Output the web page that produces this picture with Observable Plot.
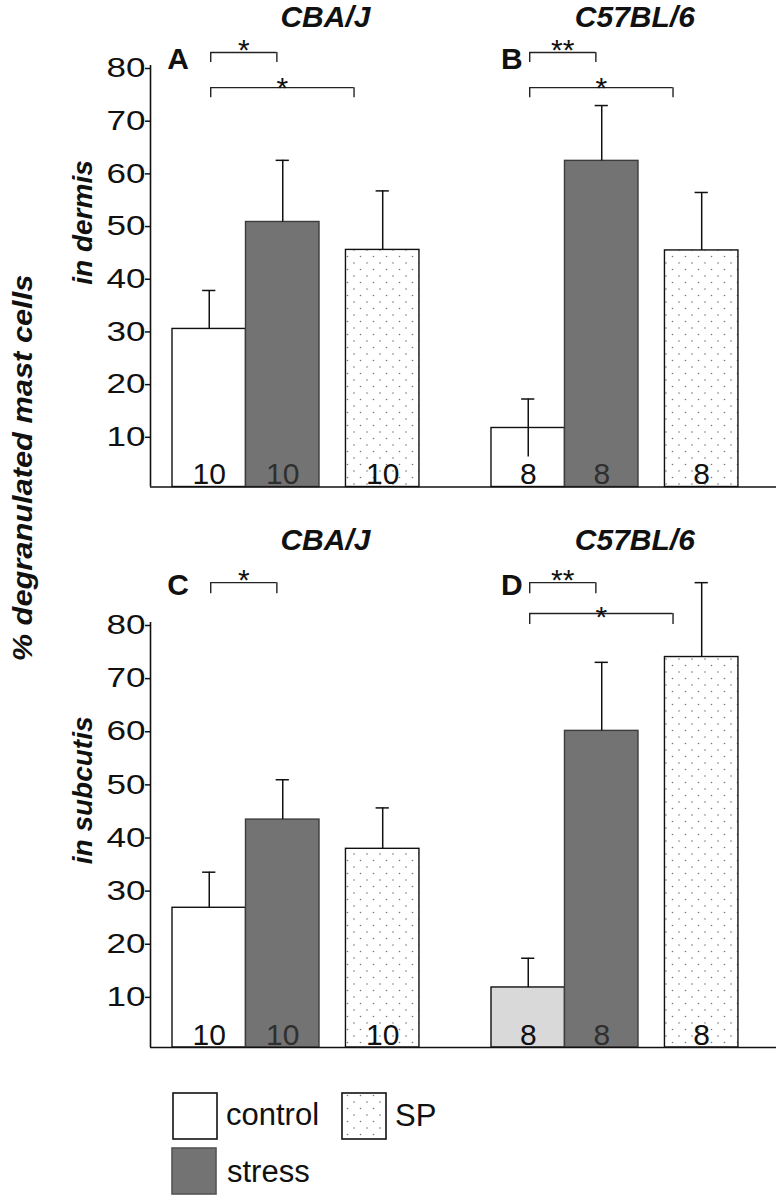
<!DOCTYPE html>
<html><head><meta charset="utf-8">
<script src="https://cdn.jsdelivr.net/npm/d3@7"></script>
<script src="https://cdn.jsdelivr.net/npm/@observablehq/plot@0.6"></script>
<style>
body{margin:0;background:#fff;}
#wrap{position:relative;width:776px;height:1199px;overflow:hidden;font-family:"Liberation Sans",Arial,Helvetica,sans-serif;}
#wrap > svg{display:block;}
</style></head><body>
<svg width="0" height="0" style="position:absolute">
<defs>
<pattern id="dots" width="13" height="13" patternUnits="userSpaceOnUse">
<rect width="13" height="13" fill="#fff"/>
<circle cx="3" cy="3" r="0.8" fill="#777"/>
<circle cx="9.5" cy="9.5" r="0.8" fill="#777"/>
</pattern>
</defs></svg>
<div id="wrap"></div>
<script>
// ---------- data ----------
const strains = ["CBA/J", "C57BL/6"];
const treatments = ["control", "stress", "SP"];
const tissues = ["dermis", "subcutis"];
const tissueLabels = ["in dermis", "in subcutis"];
const panelLetters = [["A", "B"], ["C", "D"]];
const miceN = [10, 8];
const yTicks = [10, 20, 30, 40, 50, 60, 70, 80];
const yTitle = "% degranulated mast cells";

const dermisCBA = [30.0, 50.3, 45.0];
const dermisCBAsem = [7.3, 11.7, 11.2];
const dermisC57 = [11.2, 61.9, 44.9];
const dermisC57sem = [5.5, 10.5, 11.0];
const subcutisCBA = [26.3, 42.9, 37.4];
const subcutisCBAsem = [6.7, 7.5, 7.7];
const subcutisC57 = [11.3, 59.6, 73.5];
const subcutisC57sem = [5.5, 12.9, 14.0];

const significance = [
  {tissue: "dermis", strain: "CBA/J", from: "control", to: "stress", label: "*"},
  {tissue: "dermis", strain: "CBA/J", from: "control", to: "SP", label: "*"},
  {tissue: "dermis", strain: "C57BL/6", from: "control", to: "stress", label: "**"},
  {tissue: "dermis", strain: "C57BL/6", from: "control", to: "SP", label: "*"},
  {tissue: "subcutis", strain: "CBA/J", from: "control", to: "stress", label: "*"},
  {tissue: "subcutis", strain: "C57BL/6", from: "control", to: "stress", label: "**"},
  {tissue: "subcutis", strain: "C57BL/6", from: "control", to: "SP", label: "*"}
];

// ---------- build table ----------
const series = {
  dermis: [[dermisCBA, dermisCBAsem], [dermisC57, dermisC57sem]],
  subcutis: [[subcutisCBA, subcutisCBAsem], [subcutisC57, subcutisC57sem]]
};
const bars = [];
for (const tissue of tissues) strains.forEach((strain, si) => {
  const [m, e] = series[tissue][si];
  treatments.forEach((t, ti) => bars.push({tissue, strain, treatment: t, mean: m[ti], sem: e[ti], n: String(miceN[si])}));
});

// ---------- layout ----------
const FONT = '"Liberation Sans", Arial, Helvetica, sans-serif';
const PX_PER_U = 73.5, U0 = 172;
const UMIN = (150 - U0) / PX_PER_U, UMAX = (776 - U0) / PX_PER_U;
const groupOffset = {"CBA/J": 0, "C57BL/6": 4.34};
const barOffset = {control: 0, stress: 1, SP: 2.36};
const letterDx = {"CBA/J": -0.07, "C57BL/6": 0.13};
const titleDx = {"CBA/J": 2.08, "C57BL/6": 1.95};
const left = d => groupOffset[d.strain] + barOffset[d.treatment];
const mid = d => left(d) + 0.5;
const STRESS = "#737373";
const fillOf = d => d.treatment === "stress" ? STRESS : d.treatment === "SP" ? "url(#dots)"
  : (d.tissue === "subcutis" && d.strain === "C57BL/6" ? "#d9d9d9" : "#ffffff");
const strokeOf = d => d.treatment === "stress" ? "#3c3c3c" : "#111111";

const panels = {
  dermis: {height: 500, marginTop: 65, marginBottom: 13.5, labelY: 50.2, titleY: 87.4, letterY: 79.4,
    bracketY: {stress: 82.46, SP: 75.8}, leg: 1.9, starDy: {stress: 7, SP: 10}},
  subcutis: {height: 560, marginTop: 122, marginBottom: 13, labelY: 48.4, titleY: 93.7, letterY: 85.1,
    bracketY: {stress: 87.5, SP: 81.7}, leg: 2.07, starDy: {stress: 7, SP: 14}}
};

function stretch(svg, label, s) {
  svg.querySelectorAll(`[aria-label="${label}"] text`).forEach(t =>
    t.setAttribute("transform", (t.getAttribute("transform") || "") + ` scale(${s},1)`));
}

function panel(tissue, ti) {
  const P = panels[tissue];
  const B = bars.filter(d => d.tissue === tissue);
  const S = significance.filter(d => d.tissue === tissue).map(d => {
    const x1 = groupOffset[d.strain] + barOffset[d.from] + 0.52;
    const x2 = groupOffset[d.strain] + barOffset[d.to] + (d.to === "stress" ? 0.42 : 0.11);
    return {...d, x1, x2, y: P.bracketY[d.to], yLeg: P.bracketY[d.to] - P.leg};
  });
  const legs = S.flatMap(d => [{x: d.x1, y1: d.y, y2: d.yLeg}, {x: d.x2, y1: d.y, y2: d.yLeg}]);
  const letters = strains.map((s, i) => ({strain: s, letter: panelLetters[ti][i]}));
  const lower = B.filter(d => d.tissue === "dermis" && d.strain === "C57BL/6" && d.treatment === "control");

  const svg = Plot.plot({
    width: 776, height: P.height,
    marginTop: P.marginTop, marginBottom: P.marginBottom, marginLeft: 150, marginRight: 0,
    x: {domain: [UMIN, UMAX], axis: null},
    y: {domain: [0, 80]},
    color: {type: "identity"},
    style: {fontFamily: FONT, background: "transparent", overflow: "visible", color: "#111"},
    marks: [
      Plot.rect(B, {x1: left, x2: d => left(d) + 1, y1: 0, y2: "mean", fill: fillOf, stroke: strokeOf, strokeWidth: 1.4}),
      Plot.text(B, {x: mid, y: 0, text: "n", dy: -3, lineAnchor: "bottom", fontSize: 30,
        fill: d => d.treatment === "stress" ? "#2f2f2f" : "#111111", ariaLabel: "count label"}),
      Plot.ruleX(B, {x: mid, y1: "mean", y2: d => d.mean + d.sem, strokeWidth: 1.5, stroke: "#111"}),
      Plot.ruleX(lower, {x: mid, y1: d => d.mean - d.sem, y2: "mean", strokeWidth: 1.5, stroke: "#111"}),
      Plot.ruleY(B, {y: d => d.mean + d.sem, x1: d => mid(d) - 0.09, x2: d => mid(d) + 0.09, strokeWidth: 1.5, stroke: "#111"}),
      Plot.ruleY([0], {strokeWidth: 1.6, stroke: "#111"}),
      Plot.ruleX([UMIN], {y1: 0, y2: 80, strokeWidth: 1.6, stroke: "#111"}),
      Plot.axisY(yTicks, {tickSize: 5, tickPadding: 0, fontSize: 27, dy: 3, label: null, strokeWidth: 1.5}),
      Plot.ruleY(S, {y: "y", x1: "x1", x2: "x2", strokeWidth: 1.4, stroke: "#222"}),
      Plot.ruleX(legs, {x: "x", y1: "y1", y2: "y2", strokeWidth: 1.4, stroke: "#222"}),
      ...["stress", "SP"].map(to => Plot.text(S.filter(d => d.to === to), {
        x: d => (d.x1 + d.x2) / 2, y: "y", text: "label", dy: P.starDy[to], lineAnchor: "bottom", fontSize: 30, fill: "#111"})),
      Plot.text(letters, {x: d => groupOffset[d.strain] + letterDx[d.strain], y: P.letterY, text: "letter",
        textAnchor: "start", lineAnchor: "bottom", fontSize: 30, fontWeight: "bold", fill: "#111"}),
      Plot.text(strains, {x: s => groupOffset[s] + titleDx[s], y: P.titleY, text: d => d, lineAnchor: "bottom",
        fontSize: 30, fontWeight: "bold", fontStyle: "italic", fill: "#111", ariaLabel: "strain title"}),
      Plot.text([tissueLabels[ti]], {frameAnchor: "left", y: P.labelY, text: d => d, dx: -59, rotate: -90,
        textAnchor: "middle", lineAnchor: "bottom", fontSize: 28, fontWeight: "bold", fontStyle: "italic", fill: "#111"})
    ]
  });
  stretch(svg, "y-axis tick label", 1.3);
  stretch(svg, "count label", 1.25);
  stretch(svg, "strain title", 1.08);
  return svg;
}

const wrap = document.getElementById("wrap");
tissues.forEach((t, i) => wrap.appendChild(panel(t, i)));

// legend
const ns = "http://www.w3.org/2000/svg";
const legend = document.createElementNS(ns, "svg");
legend.setAttribute("width", 776);
legend.setAttribute("height", 139);
const legendSpec = {
  control: {x: 173, y: 33, fill: "#fff", stroke: "#111", tx: 226, ty: 65},
  stress: {x: 172, y: 88, fill: STRESS, stroke: "#555", tx: 227, ty: 122},
  SP: {x: 342, y: 33, fill: "url(#dots)", stroke: "#111", tx: 395, ty: 66}
};
legend.innerHTML = treatments.map(t => {
  const s = legendSpec[t];
  return `<rect x="${s.x}" y="${s.y}" width="44" height="46" fill="${s.fill}" stroke="${s.stroke}" stroke-width="1.6"/>` +
    `<text x="${s.tx}" y="${s.ty}" font-family='${FONT}' font-size="31" fill="#111">${t}</text>`;
}).join("");
wrap.appendChild(legend);

// overall y title
const over = document.createElementNS(ns, "svg");
over.setAttribute("width", 60);
over.setAttribute("height", 1199);
over.setAttribute("style", "position:absolute;left:0;top:0;overflow:visible");
over.innerHTML = `<text transform="translate(32,468) rotate(-90) scale(1.1,1)" text-anchor="middle" font-family='${FONT}' font-size="28" font-weight="bold" font-style="italic" fill="#111">${yTitle}</text>`;
wrap.appendChild(over);
</script>
</body></html>
